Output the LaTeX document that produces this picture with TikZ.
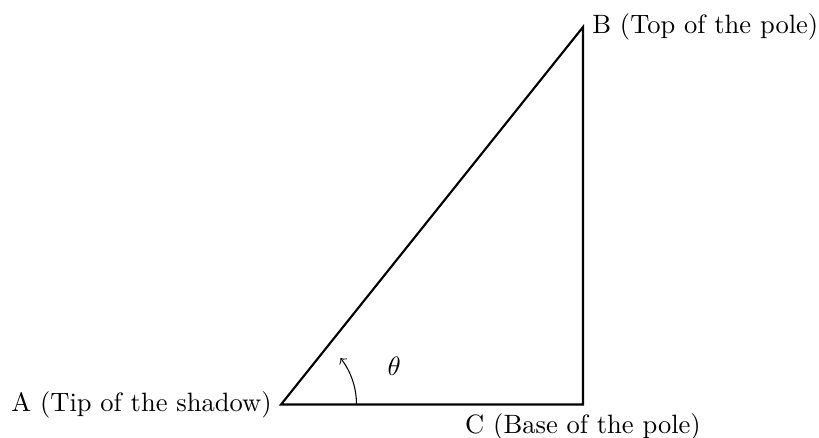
\documentclass[tikz,border=0pt]{standalone}
\begin{document}
\begin{tikzpicture}
\useasboundingbox (-3.722,-0.437) rectangle (7.126,5.358);
\tikzset{side/.style={thick}, lbl/.style={}}
\coordinate (A) at (0,0);
\coordinate (C) at (4,0);
\coordinate (B) at (4,5);
\draw[side] (A) -- (C) -- (B) -- cycle;
\node[lbl, left] (la) at (A) {A (Tip of the shadow)};
\node[lbl, right] (lb) at (B) {B (Top of the pole)};
\node[lbl, below] (lc) at (C) {C (Base of the pole)};
\draw[->] (1,0) arc (0:38:1);
\node (th) at (1.5,0.5) {$\theta$};
\end{tikzpicture}
\end{document}
